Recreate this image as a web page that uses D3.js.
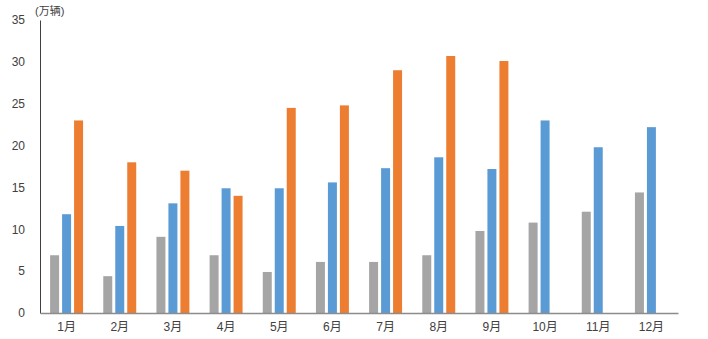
<!DOCTYPE html>
<html>
<head>
<meta charset="utf-8">
<script src="https://cdn.jsdelivr.net/npm/d3@7"></script>
<style>
  body { margin: 0; background: #fff; }
  text { font-family: "Liberation Sans", "Noto Sans CJK SC", sans-serif; fill: #404040; }
</style>
</head>
<body>
<div class="chart"></div>
<script>
// data (万辆)
var months = ["1月","2月","3月","4月","5月","6月","7月","8月","9月","10月","11月","12月"];
var seriesNames = ["gray", "blue", "orange"];
var grayVals = [6.9, 4.4, 9.1, 6.9, 4.9, 6.1, 6.1, 6.9, 9.8, 10.8, 12.1, 14.4];
var blueVals = [11.8, 10.4, 13.1, 14.9, 14.9, 15.6, 17.3, 18.6, 17.2, 23.0, 19.8, 22.2];
var orangeVals = [23.0, 18.0, 17.0, 14.0, 24.5, 24.8, 29.0, 30.7, 30.1, null, null, null];
var yTicks = [0, 5, 10, 15, 20, 25, 30, 35];
var colors = {gray: "#A5A5A5", blue: "#5B9BD5", orange: "#ED7D31"};

var svgWidth = 708;
var svgHeight = 339;
var margin = {top: 20, right: 30, bottom: 26, left: 40};
var chartWidth = svgWidth - margin.left - margin.right;
var chartHeight = svgHeight - margin.top - margin.bottom;

var svg = d3.select(".chart")
  .append("svg")
  .attr("width", svgWidth)
  .attr("height", svgHeight);

var chart = svg.append("g")
  .attr("transform", `translate(${margin.left},${margin.top})`);

// scales
var x0 = d3.scaleBand().domain(months).range([0, chartWidth]).paddingInner(0.38).paddingOuter(0.19);
var x1 = d3.scaleBand().domain(seriesNames).range([0, x0.bandwidth()]).paddingInner(0.25).paddingOuter(0);
var y = d3.scaleLinear().domain([0, 35]).range([chartHeight, 0]);

var rows = months.map(function(m, i) {
  return {month: m, gray: grayVals[i], blue: blueVals[i], orange: orangeVals[i]};
});

// bars
var groups = chart.selectAll(".month")
  .data(rows)
  .enter()
  .append("g")
  .attr("class", "month")
  .attr("transform", function(d) { return `translate(${x0(d.month)},0)`; });

groups.selectAll("rect")
  .data(function(d) {
    return seriesNames
      .filter(function(k) { return d[k] != null; })
      .map(function(k) { return {key: k, value: d[k]}; });
  })
  .enter()
  .append("rect")
  .attr("x", function(d) { return x1(d.key); })
  .attr("y", function(d) { return y(d.value); })
  .attr("width", x1.bandwidth())
  .attr("height", function(d) { return chartHeight - y(d.value); })
  .attr("fill", function(d) { return colors[d.key]; });

// y axis
var leftAxis = d3.axisLeft(y).tickValues(yTicks).tickSize(0).tickPadding(15);
var yAxis = chart.append("g").call(leftAxis);
yAxis.select(".domain").attr("stroke", "#404040");
yAxis.selectAll("text").style("font-size", "12px").style("fill", "#404040");

// x axis
var bottomAxis = d3.axisBottom(x0).tickSize(0).tickPadding(9);
var xAxis = chart.append("g")
  .attr("transform", `translate(0,${chartHeight})`)
  .call(bottomAxis);
xAxis.select(".domain").attr("stroke", "#8c8c8c").attr("stroke-width", 1.5);
xAxis.selectAll("text").style("font-size", "12px").style("fill", "#404040");

// unit label
svg.append("text")
  .attr("x", 35)
  .attr("y", 15)
  .style("font-size", "11px")
  .text("(万辆)");
</script>
</body>
</html>
